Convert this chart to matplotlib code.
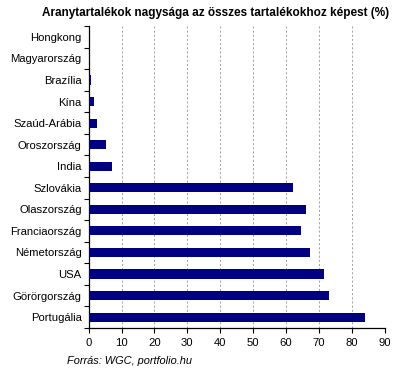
import matplotlib.pyplot as plt
import numpy as np

countries = ['Hongkong', 'Magyarország', 'Brazília', 'Kína', 'Szaúd-Arábia',
             'Oroszország', 'India', 'Szlovákia', 'Olaszország', 'Franciaország',
             'Németország', 'USA', 'Görörgország', 'Portugália']
values = [0.0, 0.3, 0.6, 1.6, 2.7, 5.4, 7.0, 62.2, 66.0, 64.5, 67.1, 71.6, 73.1, 83.8]

plt.rcParams['font.family'] = ['Liberation Sans', 'DejaVu Sans']

fig = plt.figure(figsize=(3.99, 3.73), dpi=100)
ax = fig.add_axes([0.222, 0.121, 0.743, 0.809])

y = np.arange(len(countries))
ax.barh(y, values, height=0.42, color='#000080', zorder=3)

ax.set_xlim(0, 90)
ax.set_ylim(len(countries) - 0.5, -0.5)
ax.set_xticks(np.arange(0, 91, 10))
ax.set_yticks(y)
ax.set_yticklabels(countries)
ax.set_yticks(np.arange(-0.5, len(countries), 1), minor=True)
ax.tick_params(axis='y', which='major', length=0, labelsize=8.1, pad=5)
ax.tick_params(axis='y', which='minor', length=3.5, width=0.8, direction='out')
ax.tick_params(axis='x', length=3.5, width=0.8, labelsize=8.1, pad=4)

ax.grid(axis='x', linestyle=(0, (2.5, 2.5)), color='#909090', linewidth=0.6, zorder=0)
for s in ['top', 'right']:
    ax.spines[s].set_visible(False)
for s in ['left', 'bottom']:
    ax.spines[s].set_linewidth(0.9)

fig.text(0.54, 0.965, 'Aranytartalékok nagysága az összes tartalékokhoz képest (%)',
         ha='center', va='center', fontsize=8.5, fontweight='bold')
fig.text(0.168, 0.032, 'Forrás: WGC, portfolio.hu', ha='left', va='center',
         fontsize=7.9, style='italic')

plt.savefig('out.png', dpi=100)
